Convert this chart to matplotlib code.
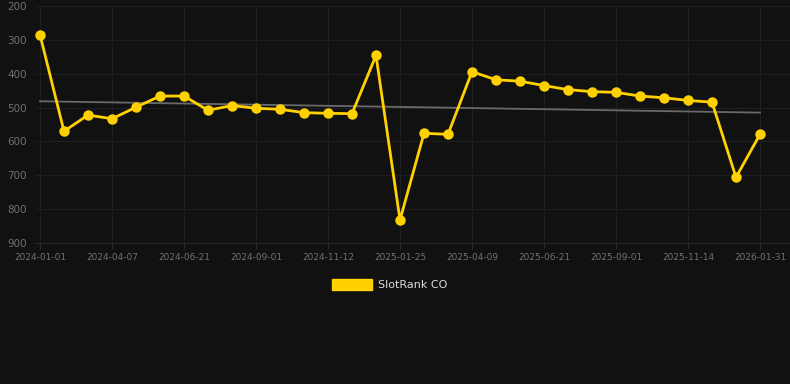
import numpy as np
import matplotlib.pyplot as plt
from matplotlib.patches import Rectangle

# ================ data ================
ranks = [285, 570, 522, 533, 499, 466, 466, 508, 494, 502, 505, 515, 517, 518,
         346, 832, 576, 579, 394, 418, 422, 435, 447, 453, 455, 466, 471, 479,
         484, 706, 579]
tick_labels = ['2024-01-01', '2024-04-07', '2024-06-21', '2024-09-01', '2024-11-12',
               '2025-01-25', '2025-04-09', '2025-06-21', '2025-09-01', '2025-11-14',
               '2026-01-31']
series_name = 'SlotRank CO'

bg = '#111111'
gold = '#FFD100'

x = np.arange(len(ranks))
k, b = np.polyfit(x, ranks, 1)

fig = plt.figure(figsize=(7.9, 3.84), dpi=100, facecolor=bg)
ax = fig.add_axes([35 / 790, 141 / 384, 755 / 790, 237 / 384], facecolor=bg)

ax.plot(x, k * x + b, color='#6a6a6a', lw=1.3, zorder=2)
ax.plot(x, ranks, color=gold, lw=2.0, marker='o', ms=6.5, zorder=3)

ax.set_xlim(-5 / 24, 30 + 30 / 24)
ax.set_ylim(900, 200)
ax.set_yticks(range(200, 901, 100))
ax.set_xticks(x[::3])
ax.set_xticklabels(tick_labels)

ax.grid(True, color='#1f1f1f', lw=0.8)
ax.set_axisbelow(True)
for s in ['top', 'right', 'left']:
    ax.spines[s].set_visible(False)
ax.spines['bottom'].set_color('#2a2a2a')
ax.tick_params(axis='y', colors='#707070', labelsize=7.5, length=0, pad=6)
ax.tick_params(axis='x', colors='#707070', labelsize=6.5, length=4, width=0.8,
               pad=3)
ax.tick_params(axis='x', color='#2a2a2a')

# legend
fig.patches.append(Rectangle((332 / 790, 1 - 290 / 384), 40 / 790, 11 / 384,
                             transform=fig.transFigure, color=gold))
fig.text(378 / 790, 1 - 285 / 384, series_name, color='#dddddd', fontsize=8,
         va='center', ha='left')

fig.savefig('out.png', dpi=100, facecolor=bg)
